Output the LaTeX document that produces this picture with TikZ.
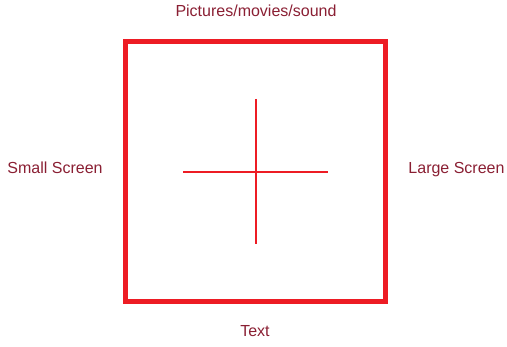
\documentclass[tikz,border=0pt]{standalone}
\usepackage{fontspec}
\setmainfont{Liberation Sans}
\usetikzlibrary{positioning}
\definecolor{screenred}{HTML}{ED1C24}
\definecolor{labelred}{HTML}{8A1F33}

\begin{document}
\begin{tikzpicture}[x=1pt, y=-1pt, every node/.style={font=\fontsize{16}{19}\selectfont, text=labelred}]
	\useasboundingbox (0,0) rectangle (507,347);
	\node[draw=screenred, line width=5pt, inner sep=0pt, minimum width=260pt, minimum height=259.5pt] (frame) at (255.5,171.75) {};
	\coordinate (west) at (183,172);
	\coordinate (east) at (328,172);
	\coordinate (north) at (256,99);
	\coordinate (south) at (256,244);
	\draw[screenred, line width=2pt] (west) -- (east);
	\draw[screenred, line width=2pt] (north) -- (south);
	\node[anchor=base] (media) at (256,17) {Pictures/movies/sound};
	\node[anchor=base] (small) at (55,174) {Small Screen};
	\node[anchor=base] (large) at (456.5,174) {Large Screen};
	\node[anchor=base] (text) at (255,337) {Text};
\end{tikzpicture}
\end{document}
